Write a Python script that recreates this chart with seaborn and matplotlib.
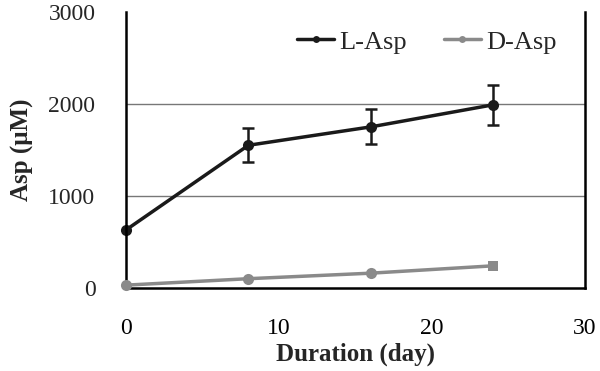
import matplotlib
matplotlib.use("Agg")
import matplotlib.pyplot as plt
import seaborn as sns
import pandas as pd
from matplotlib.lines import Line2D

days = [0, 8, 16, 24]
l_asp = [630, 1550, 1750, 1990]
l_err = [0, 185, 190, 215]
d_asp = [30, 100, 160, 240]

sns.set_theme(style="white")
plt.rcParams['font.family'] = ['Liberation Serif', 'DejaVu Serif']

df = pd.DataFrame({
    "day": days * 2,
    "value": l_asp + d_asp,
    "series": ["L-Asp"] * 4 + ["D-Asp"] * 4,
})

fig = plt.figure(figsize=(6, 3.71), dpi=100)
ax = fig.add_axes([0.21, 0.224, 0.765, 0.744])

palette = {"L-Asp": "#1a1a1a", "D-Asp": "#8a8a8a"}
sns.lineplot(data=df[df.series == "L-Asp"], x="day", y="value", color=palette["L-Asp"],
             marker="o", markersize=8, markeredgewidth=0, linewidth=2.5,
             ax=ax, legend=False, clip_on=False)
dd = df[df.series == "D-Asp"]
sns.lineplot(data=dd, x="day", y="value", color=palette["D-Asp"],
             linewidth=2.5, ax=ax, legend=False, clip_on=False)
sns.scatterplot(data=dd.iloc[:-1], x="day", y="value", color=palette["D-Asp"],
                s=64, linewidth=0, ax=ax, legend=False, clip_on=False, zorder=4)
sns.scatterplot(data=dd.iloc[-1:], x="day", y="value", color=palette["D-Asp"],
                marker="s", s=50, linewidth=0, ax=ax, legend=False, zorder=4)
ed = [d for d, e in zip(days, l_err) if e > 0]
ev = [v for v, e in zip(l_asp, l_err) if e > 0]
ee = [e for e in l_err if e > 0]
ax.errorbar(ed, ev, yerr=ee, fmt="none", ecolor="#1a1a1a",
            elinewidth=1.8, capsize=4, capthick=1.8, zorder=3)

ax.set_xlim(0, 30)
ax.set_ylim(0, 3000)
ax.set_xticks([0, 10, 20, 30])
ax.set_yticks([0, 1000, 2000, 3000])
ax.yaxis.grid(True, color="#777777", linewidth=1)
ax.get_ygridlines()[-1].set_visible(False)
ax.get_ygridlines()[0].set_visible(False)
ax.set_axisbelow(True)
ax.tick_params(axis="x", direction="in", length=7, width=1.2, colors="black",
               labelsize=17, pad=22)
ax.tick_params(axis="y", length=0, labelsize=17, pad=22)
for s in ["left", "bottom", "right"]:
    ax.spines[s].set_color("black")
    ax.spines[s].set_linewidth(1.8)
ax.spines["top"].set_visible(False)

ax.set_xlabel("Duration (day)", fontsize=18, fontweight="bold", labelpad=2)
ax.set_ylabel("Asp (μM)", fontsize=18, fontweight="bold", labelpad=10)

handles = [Line2D([], [], color=palette[k], marker="o", markersize=5,
                  linewidth=2.5, markeredgewidth=0) for k in ["L-Asp", "D-Asp"]]
ax.legend(handles, ["L-Asp", "D-Asp"], loc="upper right", ncol=2,
          frameon=False, fontsize=19, bbox_to_anchor=(0.99, 1.02),
          handlelength=1.4, columnspacing=1.4, handletextpad=0.2)

fig.savefig("out.png", dpi=100)
